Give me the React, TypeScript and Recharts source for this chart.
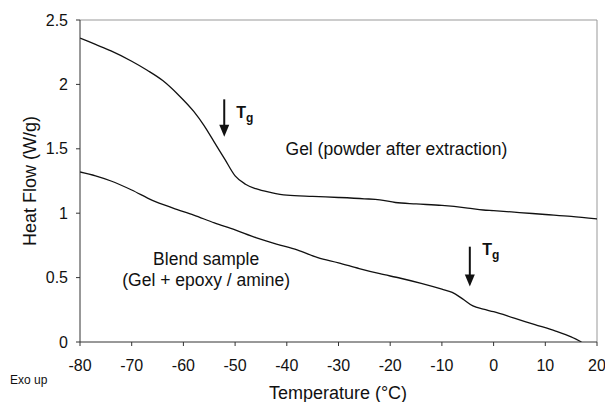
import { LineChart, Line, XAxis, YAxis, ReferenceLine, ReferenceDot } from "recharts";

// DSC traces
const gelTemp = [-80, -77, -74, -70, -67, -64, -61, -58, -56, -54, -52, -50, -48, -46, -43, -40, -35, -30, -25, -22, -19, -15, -10, -5, -2, 0, 5, 10, 15, 20];
const gelFlow = [2.36, 2.31, 2.26, 2.18, 2.11, 2.03, 1.92, 1.79, 1.68, 1.55, 1.42, 1.29, 1.225, 1.19, 1.16, 1.14, 1.13, 1.122, 1.112, 1.104, 1.083, 1.072, 1.06, 1.04, 1.025, 1.02, 1.005, 0.99, 0.975, 0.955];

const blendTemp = [-80, -77, -74, -70, -66, -62, -58, -54, -50, -46, -42, -38, -34, -30, -26, -22, -18, -14, -10, -8, -6, -4, -2, 0, 4, 8, 12, 15, 17];
const blendFlow = [1.32, 1.29, 1.25, 1.18, 1.10, 1.04, 0.985, 0.925, 0.87, 0.81, 0.76, 0.715, 0.655, 0.615, 0.57, 0.53, 0.495, 0.455, 0.41, 0.385, 0.335, 0.28, 0.255, 0.235, 0.185, 0.135, 0.085, 0.04, 0.0];

const tempTicks = [-80, -70, -60, -50, -40, -30, -20, -10, 0, 10, 20];
const flowTicks = [0, 0.5, 1, 1.5, 2, 2.5];

const gelData = gelTemp.map((t, i) => ({ t, flow: gelFlow[i] }));
const blendData = blendTemp.map((t, i) => ({ t, flow: blendFlow[i] }));

// Tg markers: arrow x, arrow top, arrow tip, label anchor
const tgMarks = [
  { x: -52.1, top: 1.884, tip: 1.594, lx: -49.8, ly: 1.737 },
  { x: -4.6, top: 0.74, tip: 0.43, lx: -2.2, ly: 0.675 },
];

const notes = [
  { x: -18.8, y: 1.452, text: "Gel (powder after extraction)" },
  { x: -55.6, y: 0.598, text: "Blend sample" },
  { x: -55.6, y: 0.435, text: "(Gel + epoxy / amine)" },
];

const FONT = "'Liberation Sans', Arial, sans-serif";
const INK = "#111";

const ArrowHead = (props: any) => {
  const { cx, cy } = props;
  return <polygon points={`${cx - 5},${cy - 12} ${cx + 5},${cy - 12} ${cx},${cy}`} fill={INK} />;
};

const TgLabel = (props: any) => {
  const { cx, cy } = props;
  return (
    <text x={cx} y={cy} fontFamily={FONT} fontWeight="bold" fontSize={16} fill={INK}>
      T<tspan fontSize={12} dy={4}>g</tspan>
    </text>
  );
};

const noteShape = (text: string) => (props: any) => (
  <text x={props.cx} y={props.cy} textAnchor="middle" fontFamily={FONT} fontSize={17.5} fill={INK}>
    {text}
  </text>
);

export default function App() {
  return (
    <div style={{ position: "absolute", left: 0, top: 0, background: "#fff" }}>
      <LineChart width={605} height={402} margin={{ top: 20, right: 8, left: 0, bottom: 0 }}>
        <XAxis
          dataKey="t"
          type="number"
          domain={[-80, 20]}
          ticks={tempTicks}
          interval={0}
          allowDataOverflow
          height={60}
          tickSize={4}
          tickMargin={14}
          stroke="#333"
          tick={{ fill: INK, fontSize: 16, fontFamily: FONT }}
        />
        <YAxis
          type="number"
          domain={[0, 2.5]}
          ticks={flowTicks}
          interval={0}
          allowDataOverflow
          width={80}
          tickSize={4}
          tickMargin={8}
          stroke="#333"
          tick={{ fill: INK, fontSize: 16, fontFamily: FONT }}
        />
        <ReferenceLine y={2.5} stroke="#999" />
        <ReferenceLine x={20} stroke="#999" />
        <Line data={gelData} dataKey="flow" type="monotone" stroke={INK} strokeWidth={1.3} dot={false} isAnimationActive={false} />
        <Line data={blendData} dataKey="flow" type="monotone" stroke={INK} strokeWidth={1.3} dot={false} isAnimationActive={false} />
        {tgMarks.map((m, i) => (
          <ReferenceLine key={`s${i}`} segment={[{ x: m.x, y: m.top }, { x: m.x, y: m.tip + 0.05 }]} stroke={INK} strokeWidth={2} />
        ))}
        {tgMarks.map((m, i) => (
          <ReferenceDot key={`h${i}`} x={m.x} y={m.tip} shape={ArrowHead} />
        ))}
        {tgMarks.map((m, i) => (
          <ReferenceDot key={`l${i}`} x={m.lx} y={m.ly} shape={TgLabel} />
        ))}
        {notes.map((n, i) => (
          <ReferenceDot key={`n${i}`} x={n.x} y={n.y} shape={noteShape(n.text)} />
        ))}
        <text x={30} y={181} transform="rotate(-90 30 181)" textAnchor="middle" dominantBaseline="central" fontFamily={FONT} fontSize={18} fill={INK}>
          Heat Flow (W/g)
        </text>
        <text x={338} y={399} textAnchor="middle" fontFamily={FONT} fontSize={18} fill={INK}>
          Temperature (°C)
        </text>
        <text x={10} y={384} fontFamily={FONT} fontSize={12} fill={INK}>
          Exo up
        </text>
      </LineChart>
    </div>
  );
}
